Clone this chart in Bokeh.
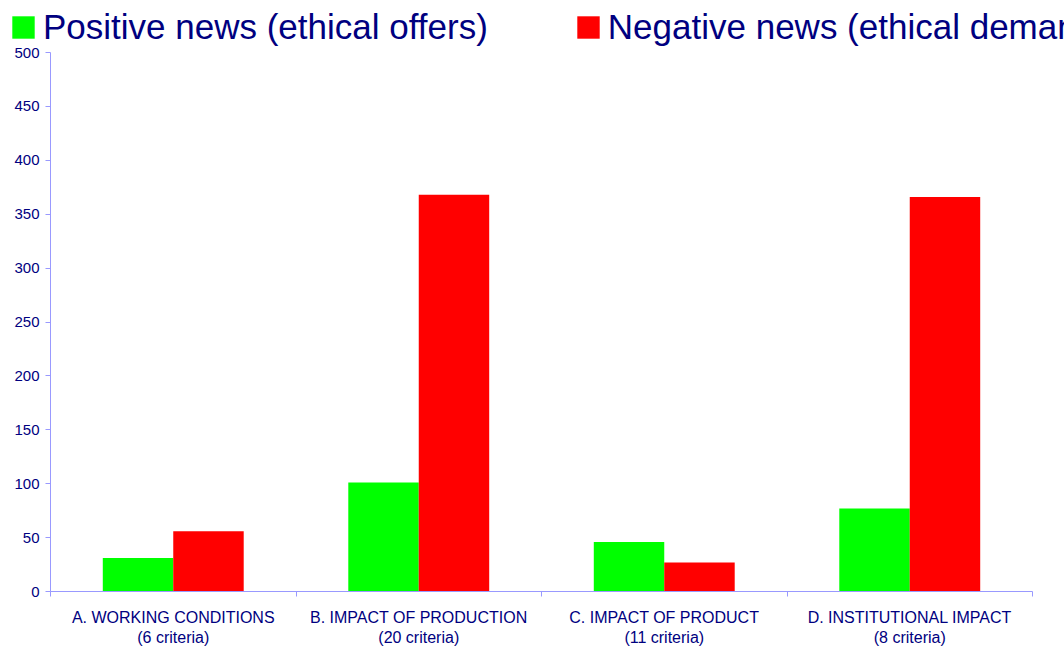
from bokeh.plotting import figure
from bokeh.models import (ColumnDataSource, FixedTicker, Legend, LegendItem,
                          LinearAxis, Range1d)
from bokeh.embed import file_html
from bokeh.resources import INLINE

categories = ["A. WORKING CONDITIONS\n(6 criteria)",
              "B. IMPACT OF PRODUCTION\n(20 criteria)",
              "C. IMPACT OF PRODUCT\n(11 criteria)",
              "D. INSTITUTIONAL IMPACT\n(8 criteria)"]
positive = [31, 101, 46, 77]
negative = [56, 368, 27, 366]
series_names = ["Positive news (ethical offers)", "Negative news (ethical demands)"]
y_ticks = [0, 50, 100, 150, 200, 250, 300, 350, 400, 450, 500]
Y_MAX = 500

NAVY = "#000080"
AXIS = "#9999ff"
GREEN = "#00ff00"
RED = "#ff0000"
FONT = "Liberation Sans"
BAR_W = 0.287

W, H = 1064, 648
# pixel box of the value area inside the canvas
LEFT, RIGHT, TOP, BOTTOM = 50, 1032, 52, 591

n = len(categories)
centers = [i + 0.5 for i in range(n)]
src_pos = ColumnDataSource(dict(x=[c - BAR_W / 2 for c in centers], top=positive))
src_neg = ColumnDataSource(dict(x=[c + BAR_W / 2 for c in centers], top=negative))

# ranges chosen so that the frame fills the canvas and the value area sits in the box
ux = (RIGHT - LEFT) / n
uy = (BOTTOM - TOP) / Y_MAX
x_range = Range1d(-LEFT / ux, n + (W - RIGHT) / ux)
y_range = Range1d(-(H - BOTTOM) / uy, Y_MAX + TOP / uy)

p = figure(width=W, height=H, output_backend="svg", toolbar_location=None,
           x_range=x_range, y_range=y_range,
           x_axis_type=None, y_axis_type=None, min_border=0)
p.outline_line_color = None
p.xgrid.visible = False
p.ygrid.visible = False

r1 = p.vbar(x="x", top="top", bottom=0, width=BAR_W, source=src_pos,
            fill_color=GREEN, line_color=None)
r2 = p.vbar(x="x", top="top", bottom=0, width=BAR_W, source=src_neg,
            fill_color=RED, line_color=None)

yaxis = LinearAxis(ticker=FixedTicker(ticks=y_ticks), fixed_location=0,
                   bounds=(0, Y_MAX))
yaxis.axis_line_color = AXIS
yaxis.major_tick_line_color = AXIS
yaxis.major_tick_out = 5
yaxis.major_tick_in = 0
yaxis.minor_tick_line_color = None
yaxis.major_label_text_color = NAVY
yaxis.major_label_text_font = FONT
yaxis.major_label_text_font_size = "15px"
yaxis.major_label_standoff = 6
p.add_layout(yaxis, "left")

xaxis = LinearAxis(ticker=FixedTicker(ticks=centers, minor_ticks=list(range(n + 1))),
                   fixed_location=0, bounds=(0, n))
xaxis.axis_line_color = AXIS
xaxis.major_tick_line_color = None
xaxis.minor_tick_line_color = AXIS
xaxis.minor_tick_out = 5
xaxis.minor_tick_in = 0
xaxis.major_label_overrides = {c: lab for c, lab in zip(centers, categories)}
xaxis.major_label_text_color = NAVY
xaxis.major_label_text_font = FONT
xaxis.major_label_text_font_size = "16px"
xaxis.major_label_standoff = 11
p.add_layout(xaxis, "below")

legend = Legend(items=[LegendItem(label=series_names[0], renderers=[r1]),
                       LegendItem(label=series_names[1], renderers=[r2])],
                orientation="horizontal", location=(9, H - 47),
                glyph_width=28, glyph_height=28, label_standoff=6, spacing=86,
                label_text_font=FONT, label_text_font_size="35px",
                label_text_color=NAVY, padding=0, margin=0,
                border_line_color=None, background_fill_alpha=0)
p.add_layout(legend, "center")

open("out.html", "w").write(file_html(p, INLINE))
